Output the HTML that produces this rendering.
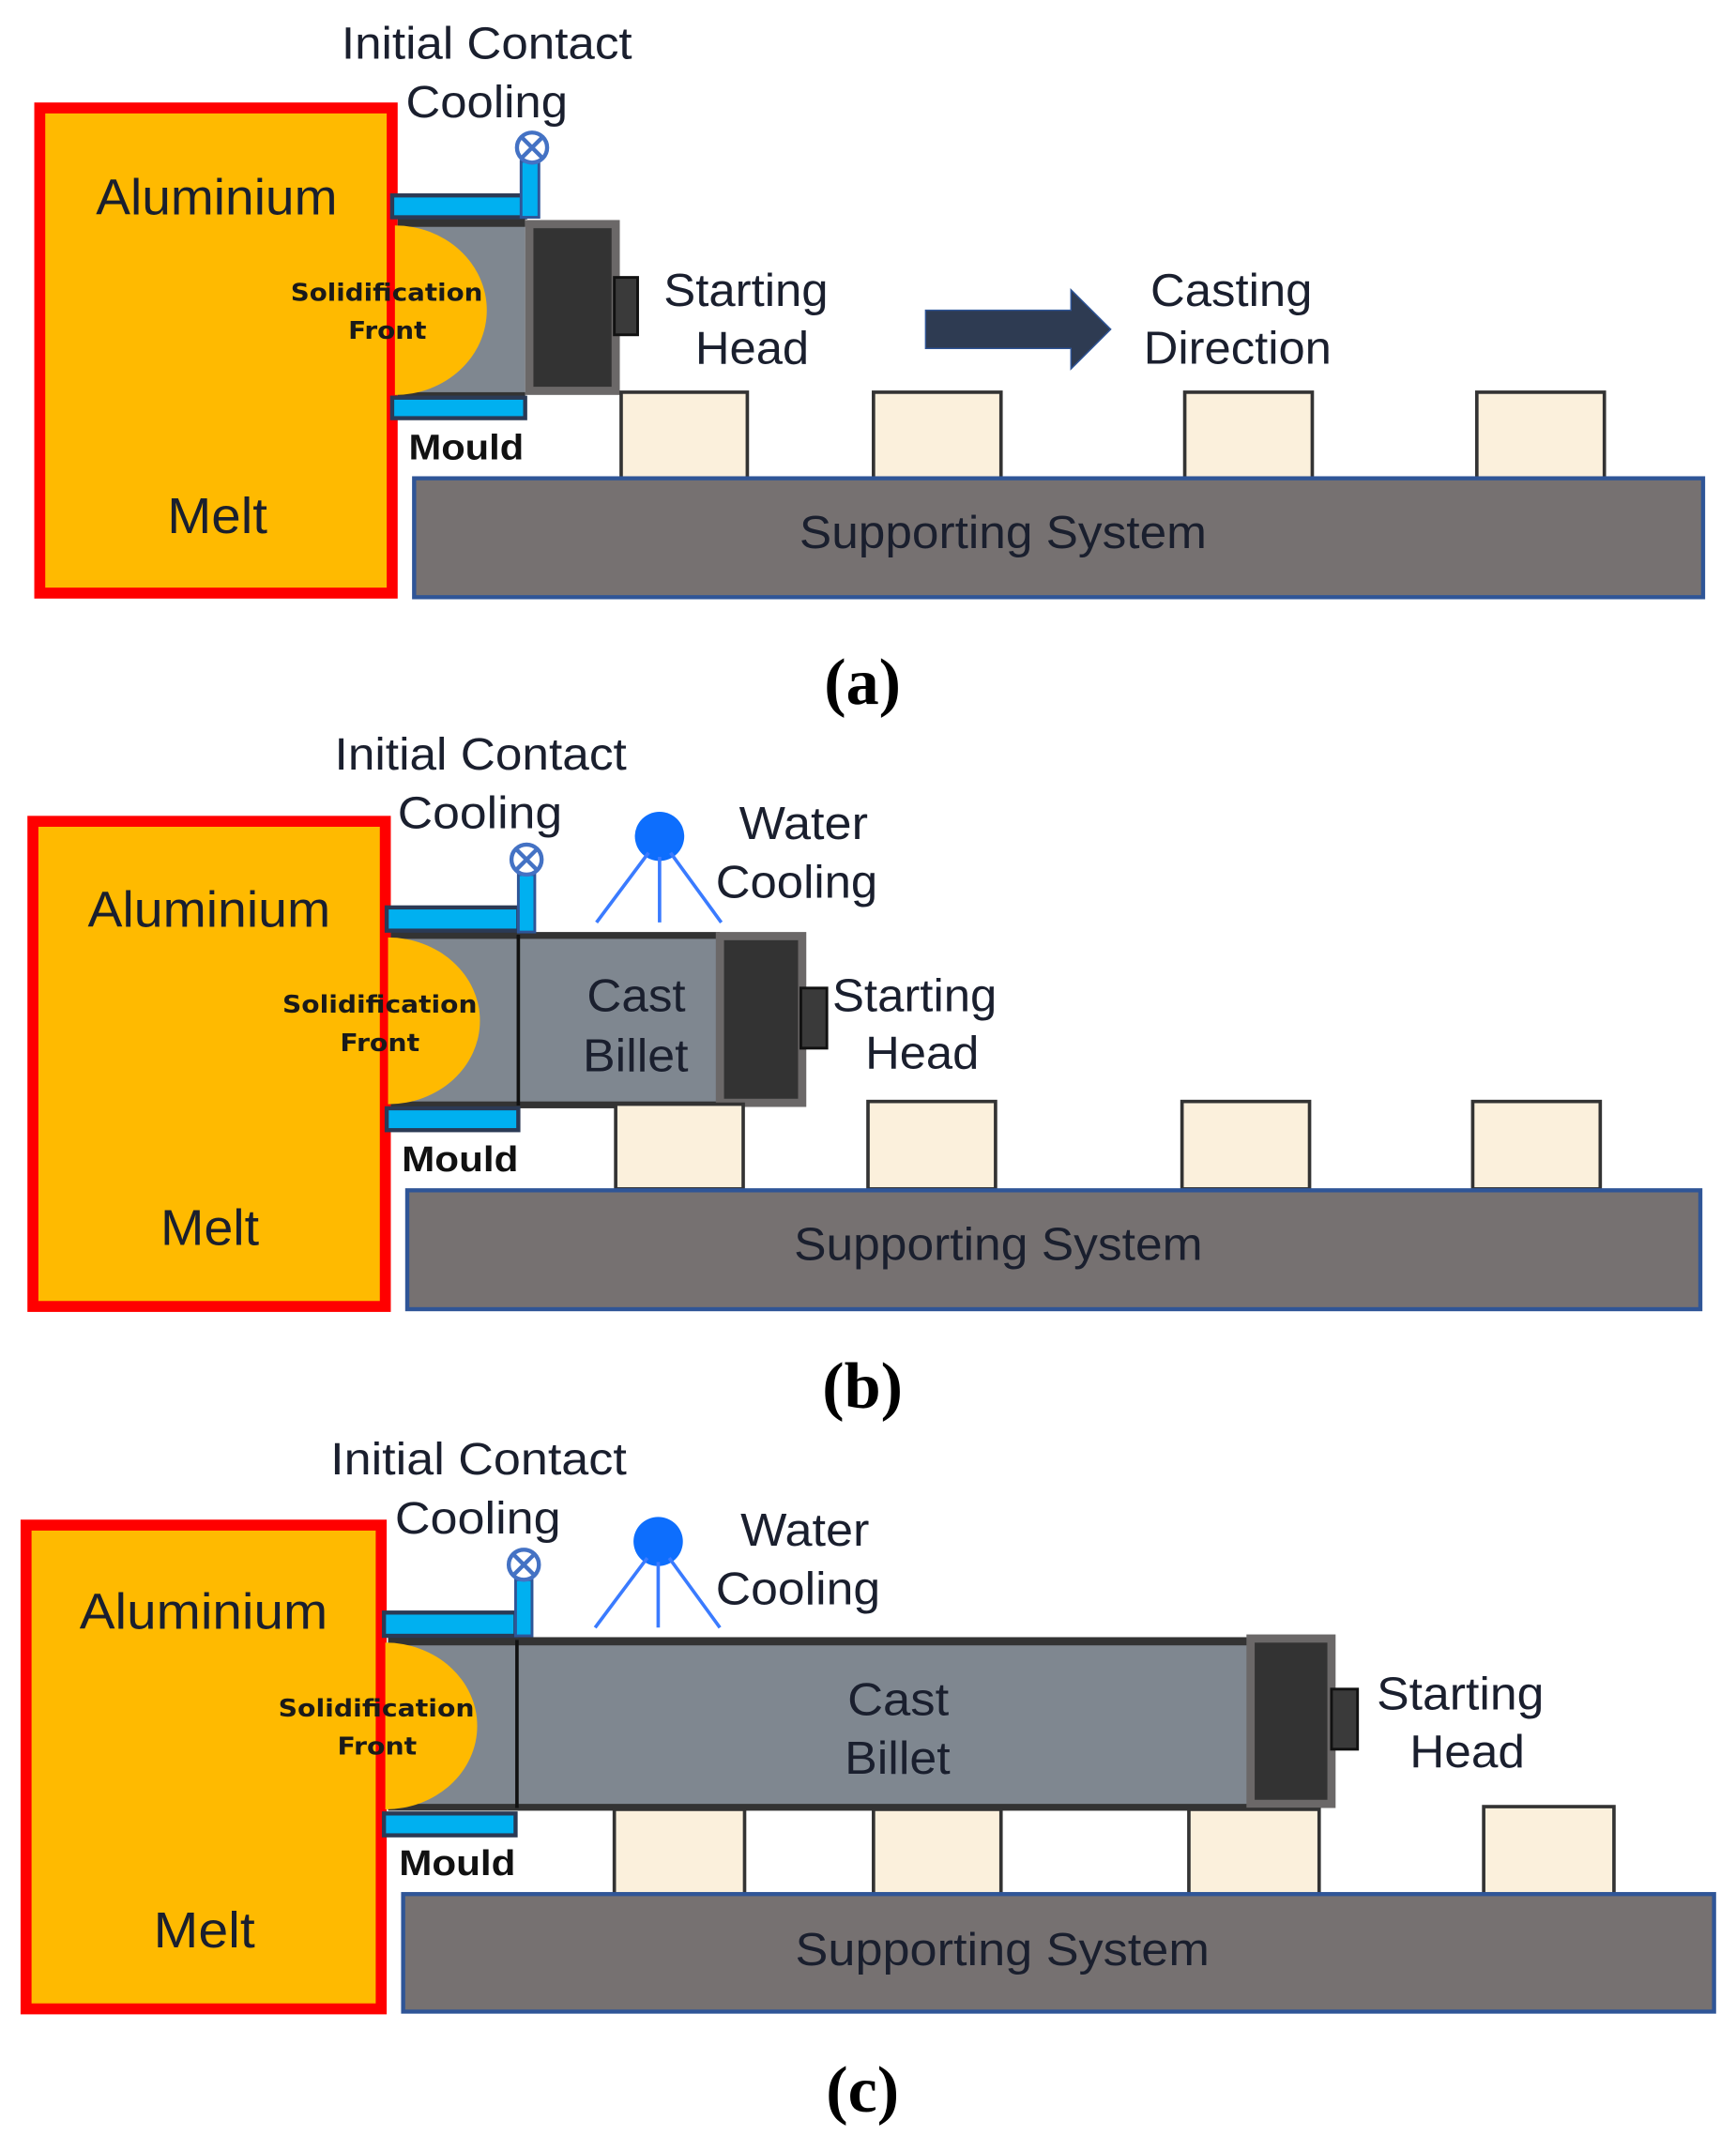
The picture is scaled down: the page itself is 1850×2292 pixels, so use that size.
<!DOCTYPE html>
<html><head><meta charset="utf-8"><style>
html,body{margin:0;padding:0;background:#fff}
svg{display:block}
.t{font-family:"Liberation Sans",sans-serif;fill:#1a1f2e}
.sf{font-family:"DejaVu Sans","Liberation Sans",sans-serif;font-weight:bold;fill:#1a1a1a;font-size:18px}
.m{font-family:"Liberation Sans",sans-serif;font-weight:bold;fill:#111;font-size:26px}
.cap{font-family:"Liberation Serif",serif;font-weight:bold;fill:#000;font-size:48px}
</style></head><body>
<svg width="1850" height="2292" viewBox="0 0 1266 1574" preserveAspectRatio="none" xmlns="http://www.w3.org/2000/svg">
<defs>
<g id="valve"><circle cx="0" cy="0" r="11" fill="#fff" stroke="#4472c4" stroke-width="3"/><line x1="-7.5" y1="-7.5" x2="7.5" y2="7.5" stroke="#4472c4" stroke-width="3"/><line x1="7.5" y1="-7.5" x2="-7.5" y2="7.5" stroke="#4472c4" stroke-width="3"/></g>
<g id="spray"><circle cx="0" cy="0" r="18" fill="#0d6efd"/><line x1="-8" y1="12" x2="-46" y2="63" stroke="#3a7bff" stroke-width="2.5"/><line x1="0" y1="15" x2="0" y2="63" stroke="#3a7bff" stroke-width="2.5"/><line x1="8" y1="12" x2="45" y2="63" stroke="#3a7bff" stroke-width="2.5"/></g>
</defs>

<!-- ===== Panel (a) ===== -->
<rect x="29" y="79" width="257" height="355" fill="#ffba00" stroke="#ff0000" stroke-width="8"/>
<rect x="290" y="163" width="93" height="127" fill="#7f8790"/>
<rect x="290" y="160" width="93" height="6" fill="#333"/>
<rect x="290" y="287" width="93" height="5" fill="#333"/>
<path d="M288 165 A67 62 0 0 1 288 289 Z" fill="#ffba00"/>
<rect x="286" y="143" width="97" height="16" fill="#00b0f0" stroke="#2b3a55" stroke-width="3"/>
<rect x="380" y="118" width="13" height="41" fill="#00b0f0" stroke="#2f5597" stroke-width="2"/>
<rect x="286" y="291" width="97" height="15" fill="#00b0f0" stroke="#2b3a55" stroke-width="3"/>
<use href="#valve" x="388" y="108"/>
<rect x="386" y="164" width="63" height="122" fill="#333" stroke="#6b6868" stroke-width="6"/>
<rect x="448" y="203" width="17" height="42" fill="#3a3a3a" stroke="#111" stroke-width="2"/>
<polygon points="675,227 781,227 781,212 810,241 781,270 781,255 675,255" fill="#2e3b52" stroke="#2f5597" stroke-width="1"/>
<rect x="453" y="287" width="92" height="63" fill="#fbf0dc" stroke="#333" stroke-width="2.5"/>
<rect x="637" y="287" width="93" height="63" fill="#fbf0dc" stroke="#333" stroke-width="2.5"/>
<rect x="864" y="287" width="93" height="63" fill="#fbf0dc" stroke="#333" stroke-width="2.5"/>
<rect x="1077" y="287" width="93" height="63" fill="#fbf0dc" stroke="#333" stroke-width="2.5"/>
<rect x="302" y="350" width="940" height="87" fill="#767171" stroke="#2f5597" stroke-width="3"/>
<text class="t" x="249" y="43" font-size="33" textLength="212" lengthAdjust="spacingAndGlyphs">Initial Contact</text>
<text class="t" x="296" y="86" font-size="33" textLength="118" lengthAdjust="spacingAndGlyphs">Cooling</text>
<text class="t" x="70" y="157" font-size="37" textLength="176" lengthAdjust="spacingAndGlyphs">Aluminium</text>
<text class="t" x="122" y="390" font-size="37" textLength="73" lengthAdjust="spacingAndGlyphs">Melt</text>
<text class="sf" x="212" y="220" textLength="140" lengthAdjust="spacingAndGlyphs">Solidification</text>
<text class="sf" x="254" y="248" textLength="57" lengthAdjust="spacingAndGlyphs">Front</text>
<text class="m" x="298" y="336" textLength="84" lengthAdjust="spacingAndGlyphs">Mould</text>
<text class="t" x="484" y="224" font-size="34" textLength="120" lengthAdjust="spacingAndGlyphs">Starting</text>
<text class="t" x="507" y="266" font-size="34" textLength="83" lengthAdjust="spacingAndGlyphs">Head</text>
<text class="t" x="839" y="224" font-size="34" textLength="118" lengthAdjust="spacingAndGlyphs">Casting</text>
<text class="t" x="834" y="266" font-size="34" textLength="137" lengthAdjust="spacingAndGlyphs">Direction</text>
<text class="t" x="583" y="401" font-size="34" textLength="297" lengthAdjust="spacingAndGlyphs">Supporting System</text>
<text class="cap" x="629" y="515" text-anchor="middle">(a)</text>

<!-- ===== Panel (b) ===== -->
<rect x="24" y="601" width="257" height="355" fill="#ffba00" stroke="#ff0000" stroke-width="8"/>
<rect x="285" y="685" width="240" height="123" fill="#7f8790"/>
<rect x="285" y="682" width="240" height="5" fill="#333"/>
<rect x="285" y="806" width="240" height="5" fill="#333"/>
<line x1="378" y1="684" x2="378" y2="809" stroke="#111" stroke-width="2.5"/>
<path d="M283 686 A67 61 0 0 1 283 808 Z" fill="#ffba00"/>
<rect x="282" y="664" width="96" height="17" fill="#00b0f0" stroke="#2b3a55" stroke-width="3"/>
<rect x="378" y="640" width="12" height="42" fill="#00b0f0" stroke="#2f5597" stroke-width="2"/>
<rect x="282" y="811" width="96" height="16" fill="#00b0f0" stroke="#2b3a55" stroke-width="3"/>
<use href="#valve" x="384" y="629"/>
<use href="#spray" x="481" y="612"/>
<rect x="525" y="685" width="60" height="122" fill="#333" stroke="#6b6868" stroke-width="6"/>
<rect x="584" y="723" width="19" height="44" fill="#3a3a3a" stroke="#111" stroke-width="2"/>
<rect x="449" y="808" width="93" height="62" fill="#fbf0dc" stroke="#333" stroke-width="2.5"/>
<rect x="633" y="806" width="93" height="64" fill="#fbf0dc" stroke="#333" stroke-width="2.5"/>
<rect x="862" y="806" width="93" height="64" fill="#fbf0dc" stroke="#333" stroke-width="2.5"/>
<rect x="1074" y="806" width="93" height="64" fill="#fbf0dc" stroke="#333" stroke-width="2.5"/>
<rect x="297" y="871" width="943" height="87" fill="#767171" stroke="#2f5597" stroke-width="3"/>
<text class="t" x="244" y="563" font-size="33" textLength="213" lengthAdjust="spacingAndGlyphs">Initial Contact</text>
<text class="t" x="290" y="606" font-size="33" textLength="120" lengthAdjust="spacingAndGlyphs">Cooling</text>
<text class="t" x="64" y="678" font-size="37" textLength="177" lengthAdjust="spacingAndGlyphs">Aluminium</text>
<text class="t" x="117" y="911" font-size="37" textLength="72" lengthAdjust="spacingAndGlyphs">Melt</text>
<text class="sf" x="206" y="741" textLength="142" lengthAdjust="spacingAndGlyphs">Solidification</text>
<text class="sf" x="248" y="769" textLength="58" lengthAdjust="spacingAndGlyphs">Front</text>
<text class="m" x="293" y="857" textLength="85" lengthAdjust="spacingAndGlyphs">Mould</text>
<text class="t" x="539" y="614" font-size="34" textLength="94" lengthAdjust="spacingAndGlyphs">Water</text>
<text class="t" x="522" y="657" font-size="34" textLength="118" lengthAdjust="spacingAndGlyphs">Cooling</text>
<text class="t" x="428" y="740" font-size="34" textLength="72" lengthAdjust="spacingAndGlyphs">Cast</text>
<text class="t" x="425" y="784" font-size="34" textLength="77" lengthAdjust="spacingAndGlyphs">Billet</text>
<text class="t" x="607" y="740" font-size="34" textLength="120" lengthAdjust="spacingAndGlyphs">Starting</text>
<text class="t" x="631" y="782" font-size="34" textLength="83" lengthAdjust="spacingAndGlyphs">Head</text>
<text class="t" x="579" y="922" font-size="34" textLength="298" lengthAdjust="spacingAndGlyphs">Supporting System</text>
<text class="cap" x="629" y="1030" text-anchor="middle">(b)</text>

<!-- ===== Panel (c) ===== -->
<rect x="19" y="1116" width="259" height="354" fill="#ffba00" stroke="#ff0000" stroke-width="8"/>
<rect x="283" y="1201" width="630" height="122" fill="#7f8790"/>
<rect x="283" y="1198" width="630" height="6" fill="#333"/>
<rect x="283" y="1320" width="630" height="5" fill="#333"/>
<line x1="377" y1="1200" x2="377" y2="1323" stroke="#111" stroke-width="2.5"/>
<path d="M281 1202 A67 61 0 0 1 281 1324 Z" fill="#ffba00"/>
<rect x="280" y="1180" width="96" height="17" fill="#00b0f0" stroke="#2b3a55" stroke-width="3"/>
<rect x="376" y="1156" width="12" height="41" fill="#00b0f0" stroke="#2f5597" stroke-width="2"/>
<rect x="280" y="1327" width="96" height="16" fill="#00b0f0" stroke="#2b3a55" stroke-width="3"/>
<use href="#valve" x="382" y="1145"/>
<use href="#spray" x="480" y="1128"/>
<rect x="912" y="1199" width="59" height="121" fill="#333" stroke="#6b6868" stroke-width="6"/>
<rect x="971" y="1236" width="19" height="44" fill="#3a3a3a" stroke="#111" stroke-width="2"/>
<rect x="448" y="1324" width="95" height="62" fill="#fbf0dc" stroke="#333" stroke-width="2.5"/>
<rect x="637" y="1324" width="93" height="62" fill="#fbf0dc" stroke="#333" stroke-width="2.5"/>
<rect x="867" y="1324" width="95" height="62" fill="#fbf0dc" stroke="#333" stroke-width="2.5"/>
<rect x="1082" y="1322" width="95" height="64" fill="#fbf0dc" stroke="#333" stroke-width="2.5"/>
<rect x="294" y="1386" width="956" height="86" fill="#767171" stroke="#2f5597" stroke-width="3"/>
<text class="t" x="241" y="1079" font-size="33" textLength="216" lengthAdjust="spacingAndGlyphs">Initial Contact</text>
<text class="t" x="288" y="1122" font-size="33" textLength="121" lengthAdjust="spacingAndGlyphs">Cooling</text>
<text class="t" x="58" y="1192" font-size="37" textLength="181" lengthAdjust="spacingAndGlyphs">Aluminium</text>
<text class="t" x="112" y="1425" font-size="37" textLength="74" lengthAdjust="spacingAndGlyphs">Melt</text>
<text class="sf" x="203" y="1256" textLength="143" lengthAdjust="spacingAndGlyphs">Solidification</text>
<text class="sf" x="246" y="1284" textLength="58" lengthAdjust="spacingAndGlyphs">Front</text>
<text class="m" x="291" y="1372" textLength="85" lengthAdjust="spacingAndGlyphs">Mould</text>
<text class="t" x="540" y="1131" font-size="34" textLength="94" lengthAdjust="spacingAndGlyphs">Water</text>
<text class="t" x="522" y="1174" font-size="34" textLength="120" lengthAdjust="spacingAndGlyphs">Cooling</text>
<text class="t" x="618" y="1255" font-size="34" textLength="74" lengthAdjust="spacingAndGlyphs">Cast</text>
<text class="t" x="616" y="1298" font-size="34" textLength="77" lengthAdjust="spacingAndGlyphs">Billet</text>
<text class="t" x="1004" y="1251" font-size="34" textLength="122" lengthAdjust="spacingAndGlyphs">Starting</text>
<text class="t" x="1028" y="1293" font-size="34" textLength="84" lengthAdjust="spacingAndGlyphs">Head</text>
<text class="t" x="580" y="1438" font-size="34" textLength="302" lengthAdjust="spacingAndGlyphs">Supporting System</text>
<text class="cap" x="629" y="1545" text-anchor="middle">(c)</text>
</svg>
</body></html>
